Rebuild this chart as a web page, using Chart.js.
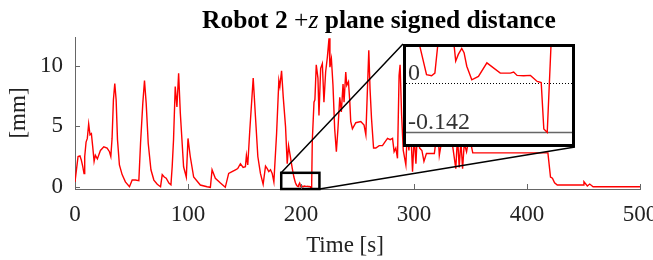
<!DOCTYPE html>
<html>
<head>
<meta charset="utf-8">
<script src="https://cdn.jsdelivr.net/npm/chart.js@4/dist/chart.umd.min.js"></script>
<style>
  html, body { margin: 0; padding: 0; background: #fff; }
  #wrap { position: relative; width: 653px; height: 260px; font-family: "Liberation Serif", "Times New Roman", serif; color: #000; }
  #title { position: absolute; left: 202px; top: 7px; font-size: 25.5px; line-height: 25px; font-weight: bold; white-space: nowrap; }
  #title .m { font-weight: normal; }
  #xlabel { position: absolute; left: 245px; top: 233px; width: 200px; text-align: center; font-size: 23px; line-height: 23px; color: #222; }
  #inset { position: absolute; background: #fff; }
</style>
</head>
<body>
<div id="wrap">
  <canvas id="main_chart" width="653" height="260"></canvas>
  <div id="title">Robot 2 <span class="m">+<i>z</i></span> plane signed distance</div>
  <div id="xlabel">Time [s]</div>
  <div id="inset"><canvas id="inset_chart" width="172" height="103"></canvas></div>
</div>
<script>
// time [s] and signed distance [mm]
const times = [
  0, 0.9, 2.7, 4.4, 5.6, 6.8, 8.0, 8.6, 9.8, 10.9, 12.1, 13.3, 14.5, 15.7, 16.9, 18.0, 19.8,
  22.5, 25.5, 28.4, 30.5, 31.7, 32.8, 34.0, 35.2, 36.4, 37.6, 39.3, 41.7, 44.6, 48.2,
  50.6, 53.5, 56.5, 58.0, 60.0, 61.5, 63.0, 64.8, 67.2, 69.8, 72.8, 75.7, 77.2, 79.0,
  80.7, 83.1, 84.9, 86.0, 87.2, 88.7, 90.2, 91.7, 93.2, 96.1, 98.5, 100.0, 102.0, 105.0,
  110.9, 116.9, 119.8, 121.3, 124.2, 128.7, 133.0, 136.0, 139.0, 142.0, 144.0, 146.4,
  148.8, 150.8, 151.7, 152.9, 154.7, 157.7, 159.7, 161.8, 164.1, 166.5, 168.6, 170.1,
  171.5, 173.0, 174.5, 176.0, 178.4, 180.4, 181.3, 182.8, 184.3, 186.3, 187.8, 189.0,
  192.3, 193.7, 195.0, 196.0, 196.94, 197.44, 197.77, 198.2, 198.8, 199.4, 199.7, 199.84,
  200.1, 200.44, 200.67, 200.94, 201.44, 202.1, 202.94, 204.27, 205.27, 205.6, 205.94,
  206.6, 207.27, 207.94, 208.34, 208.6, 208.94, 209.45, 210.0, 211.5, 212.3, 213.5,
  215.0, 215.9, 217.4, 218.9, 220.3, 221.8, 223.3, 224.8, 225.6, 226.9, 228.3, 229.8,
  231.3, 232.7, 234.3, 235.7, 237.2, 238.1, 239.6, 240.5, 242.0, 243.2, 244.0, 245.5,
  248.5, 252.9, 255.8, 257.4, 258.8, 260.0, 261.1, 262.4, 264.2, 266.2, 269.2, 272.1,
  274.2, 276.6, 278.9, 281.0, 282.4, 283.9, 285.4, 286.8, 287.7, 289.0, 290.5, 292.8,
  294.0, 295.5, 297.0, 298.7, 300.2, 301.7, 303.0, 305.0, 307.0, 308.8, 311.0, 318.0,
  321.0, 322.4, 324.0, 325.5, 328.0, 331.0, 334.0, 337.0, 338.5, 340.0, 341.5, 343.0,
  344.5, 346.5, 349.0, 352.0, 380.0, 418.5, 420.8, 422.5, 424.4, 426.8, 449.6, 450.4,
  453.4, 455.5, 458.5, 500.0
];
const values = [
  0.4, 1.1, 2.5, 2.55, 2.2, 1.7, 1.1, 2.5, 3.7, 4.0, 5.2, 4.3, 4.4, 3.3, 2.1, 2.6, 2.3,
  3.0, 3.3, 3.2, 2.9, 2.5, 4.0, 7.2, 8.55, 7.2, 3.9, 1.8, 1.0, 0.4, 0.0,
  0.55, 0.55, 0.5, 3.6, 6.9, 8.8, 6.9, 3.6, 1.4, 0.55, 0.2, 0.0, 1.0, 0.8,
  0.7, 0.3, 0.15, 1.65, 3.9, 8.3, 6.6, 9.4, 6.1, 1.65, 0.8, 4.0, 2.5, 0.8,
  0.14, 0.0, -0.05, 1.4, 0.7, 0.3, -0.05, 1.1, 1.25, 1.4, 1.5, 1.9,
  1.6, 1.65, 2.6, 1.8, 4.7, 9.0, 5.8, 2.5, 1.1, 0.2, 1.7, 1.5,
  1.25, 1.4, 1.1, 0.4, 4.4, 8.8, 8.3, 9.6, 7.4, 5.0, 1.9, 3.4,
  1.5, 0.8, 0.35, 0.14, 0.0245, 0.0215, 0.029, 0.15, 0.3, 0.14, 0.103, 0.064,
  0.083, 0.10, 0.088, 0.049, 0.0098, 0.0196, 0.0587, 0.029, 0.029, 0.032, 0.0225,
  0.0215, 0.0225, 0.005, 0.002, -0.132, -0.142, 0.2, 3.8, 7.0, 7.2, 10.1,
  9.0, 5.9, 9.8, 10.2, 7.0, 9.5, 10.7, 12.3, 9.9, 10.6, 8.4, 4.8,
  2.9, 4.8, 7.4, 6.2, 8.5, 7.0, 9.5, 8.4, 8.7, 7.0, 5.4, 4.8,
  5.3, 5.4, 5.1, 4.3, 8.1, 11.3, 8.1, 5.65, 3.2, 3.2, 3.4, 3.4,
  3.7, 4.0, 3.9, 4.0, 2.9, 3.2, 2.35, 9.2, 10.1, 6.0, 3.0, 1.8,
  4.5, 3.0, 5.0, 1.25, 4.2, 1.9, 4.5, 3.2, 3.0, 2.1, 2.75, 2.75,
  5.0, 2.6, 3.5, 4.5, 3.6, 5.0, 3.5, 1.5, 4.2, 1.6, 3.8, 1.5,
  3.6, 2.9, 4.2, 2.8, 2.8, 2.8, 0.8, 0.7, 0.33, 0.14, 0.14, 0.41,
  0.06, 0.22, 0.0, 0.0
];
const xTicks = [0, 100, 200, 300, 400, 500];
const yTicks = [0, 5, 10];
const refLevels = [0, -0.142];
const refLabels = ['0', '-0.142'];

// zoomed window (data units) and where its magnified view sits (px)
const zoomWin = { x0: 182.5, x1: 216.3, y0: -0.19, y1: 1.15 };
const insetRange = { x0: 194.6, x1: 211.7, y0: -0.184, y1: 0.113 };
const insetBox = { left: 403, top: 44, width: 172, height: 103 };

const serif = '"Liberation Serif", "Times New Roman", serif';
const points = times.map((t, i) => ({ x: t, y: values[i] }));

const inwardTicks = {
    id: 'inwardTicks',
    afterDraw(chart) {
        const { ctx, chartArea: a, scales: { x, y } } = chart;
        ctx.save();
        ctx.strokeStyle = '#666';
        ctx.lineWidth = 1;
        ctx.beginPath();
        xTicks.forEach(v => {
            const px = Math.round(x.getPixelForValue(v)) + 0.5;
            ctx.moveTo(px, a.bottom);
            ctx.lineTo(px, a.bottom - 5);
        });
        yTicks.forEach(v => {
            const py = Math.round(y.getPixelForValue(v)) + 0.5;
            ctx.moveTo(a.left, py);
            ctx.lineTo(a.left + 5, py);
        });
        ctx.stroke();
        ctx.restore();
    }
};

const zoomMarker = {
    id: 'zoomMarker',
    afterDatasetsDraw(chart) {
        const { ctx, scales: { x, y } } = chart;
        const l = x.getPixelForValue(zoomWin.x0), r = x.getPixelForValue(zoomWin.x1);
        const t = y.getPixelForValue(zoomWin.y1), b = y.getPixelForValue(zoomWin.y0);
        ctx.save();
        ctx.strokeStyle = '#000';
        ctx.lineWidth = 1.5;
        ctx.beginPath();
        ctx.moveTo(l, t);
        ctx.lineTo(insetBox.left, insetBox.top);
        ctx.moveTo(r, b);
        ctx.lineTo(insetBox.left + insetBox.width, insetBox.top + insetBox.height);
        ctx.stroke();
        ctx.lineWidth = 2.5;
        ctx.strokeRect(l, t, r - l, b - t);
        ctx.restore();
    }
};

let mainChart = new Chart(document.getElementById('main_chart'), {
    type: 'line',
    data: {
        datasets: [{
            data: points,
            borderColor: '#ff0000',
            borderWidth: 1.4,
            pointRadius: 0,
            tension: 0
        }]
    },
    options: {
        responsive: false,
        animation: false,
        layout: { padding: { top: 37, right: 13, left: 0, bottom: 0 } },
        plugins: { legend: { display: false }, tooltip: { enabled: false } },
        scales: {
            x: {
                type: 'linear',
                min: 0, max: 500,
                afterBuildTicks: s => { s.ticks = xTicks.map(v => ({ value: v })); },
                afterFit: s => { s.height = 71; s.paddingLeft = 0; s.paddingRight = 0; },
                grid: { drawOnChartArea: false, drawTicks: false },
                border: { color: '#666', width: 1 },
                ticks: { padding: 12, color: '#222', font: { family: serif, size: 23 }, maxRotation: 0 }
            },
            y: {
                min: -0.19, max: 12.4,
                afterBuildTicks: s => { s.ticks = yTicks.map(v => ({ value: v })); },
                afterFit: s => { s.width = 75; s.paddingTop = 0; s.paddingBottom = 0; },
                grid: { drawOnChartArea: false, drawTicks: false },
                border: { color: '#666', width: 1 },
                ticks: { padding: 12, color: '#222', font: { family: serif, size: 23 } },
                title: { display: true, text: '[mm]', color: '#222', font: { family: serif, size: 23 }, padding: { top: 5, bottom: 0 } }
            }
        }
    },
    plugins: [inwardTicks, zoomMarker]
});

// magnified view
const insetDiv = document.getElementById('inset');
insetDiv.style.left = insetBox.left + 'px';
insetDiv.style.top = insetBox.top + 'px';
insetDiv.style.width = insetBox.width + 'px';
insetDiv.style.height = insetBox.height + 'px';

const insetDecor = {
    id: 'insetDecor',
    beforeDatasetsDraw(chart) {
        const { ctx, chartArea: a, scales: { y } } = chart;
        ctx.save();
        refLevels.forEach((lv, i) => {
            const py = Math.round(y.getPixelForValue(lv)) + 0.5;
            ctx.beginPath();
            if (i === 0) {
                ctx.setLineDash([1, 2]);
                ctx.strokeStyle = '#000';
                ctx.lineWidth = 1;
            } else {
                ctx.setLineDash([]);
                ctx.strokeStyle = '#666';
                ctx.lineWidth = 1.5;
            }
            ctx.moveTo(a.left, py);
            ctx.lineTo(a.right, py);
            ctx.stroke();
            ctx.setLineDash([]);
            ctx.fillStyle = '#333';
            ctx.font = '24px ' + serif;
            ctx.textBaseline = 'alphabetic';
            ctx.fillText(refLabels[i], a.left + 5, py - 4);
        });
        ctx.restore();
    },
    afterDraw(chart) {
        const { ctx, width, height } = chart;
        ctx.save();
        ctx.strokeStyle = '#000';
        ctx.lineWidth = 3;
        ctx.strokeRect(1.5, 1.5, width - 3, height - 3);
        ctx.restore();
    }
};

let insetChart = new Chart(document.getElementById('inset_chart'), {
    type: 'line',
    data: {
        datasets: [{
            data: points,
            borderColor: '#ff0000',
            borderWidth: 1.4,
            pointRadius: 0,
            tension: 0
        }]
    },
    options: {
        responsive: false,
        animation: false,
        layout: { padding: 0 },
        plugins: { legend: { display: false }, tooltip: { enabled: false } },
        scales: {
            x: { type: 'linear', display: false, min: insetRange.x0, max: insetRange.x1 },
            y: { display: false, min: insetRange.y0, max: insetRange.y1 }
        }
    },
    plugins: [insetDecor]
});
</script>
</body>
</html>
